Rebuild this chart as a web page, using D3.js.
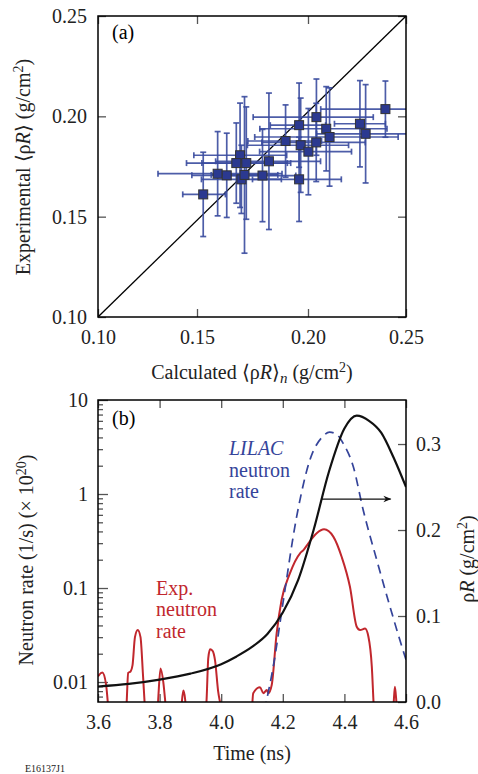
<!DOCTYPE html>
<html>
<head>
<meta charset="utf-8">
<script src="https://cdn.jsdelivr.net/npm/d3@7"></script>
<style>
    body { margin: 0; background: #fff; }
    svg text { font-family: "Liberation Serif", "Times New Roman", serif; }
</style>
</head>
<body>
<svg id="chart" width="478" height="774"></svg>
<script>
// panel (a): calculated vs experimental rhoR
var calcRhoR = [0.1528, 0.1593, 0.1634, 0.1694, 0.1677, 0.1722, 0.1700, 0.1714, 0.1795, 0.1824, 0.1899,
    0.1960, 0.2043, 0.1967, 0.2042, 0.2002, 0.2093, 0.2110, 0.1960, 0.2265, 0.2294, 0.2395];
var expRhoR = [0.1611, 0.1714, 0.1706, 0.1806, 0.1767, 0.1767, 0.1686, 0.1708, 0.1705, 0.1776, 0.1877,
    0.1956, 0.1996, 0.1856, 0.1870, 0.1824, 0.1938, 0.1897, 0.1686, 0.1963, 0.1913, 0.2036];
var calcErr = [0.010, 0.029, 0.016, 0.021, 0.023, 0.020, 0.018, 0.015, 0.015, 0.024, 0.017,
    0.013, 0.029, 0.024, 0.025, 0.022, 0.031, 0.035, 0.021, 0.013, 0.025, 0.033];
var expErr = [0.021, 0.021, 0.021, 0.026, 0.020, 0.028, 0.017, 0.039, 0.023, 0.034, 0.018,
    0.021, 0.019, 0.0235, 0.0195, 0.0215, 0.021, 0.0245, 0.021, 0.0215, 0.0245, 0.014];
var aTicks = [0.10, 0.15, 0.20, 0.25];

// panel (b): time histories
var rhoTime = [3.60, 3.70, 3.80, 3.90, 4.00, 4.05, 4.10, 4.15, 4.20, 4.25, 4.30, 4.35, 4.40, 4.44, 4.48, 4.52, 4.56, 4.60];
var rhoR = [0.018, 0.021, 0.026, 0.033, 0.044, 0.053, 0.064, 0.079, 0.104, 0.142, 0.200, 0.268, 0.318, 0.333, 0.327, 0.313, 0.284, 0.250];

var lilacTime = [4.140, 4.169, 4.202, 4.245, 4.288, 4.330, 4.352, 4.375, 4.396, 4.429, 4.461, 4.505, 4.548, 4.597, 4.62];
var lilacRate = [0.005, 0.0146, 0.0745, 0.574, 2.30, 4.10, 4.55, 4.30, 3.46, 1.95, 0.676, 0.199, 0.0633, 0.0186, 0.011];

var expTime = [3.600, 3.614, 3.626, 3.634, 3.640, 3.688, 3.693, 3.698, 3.706, 3.712, 3.720, 3.729, 3.738, 3.746, 3.753, 3.760,
    3.790, 3.796, 3.803, 3.812, 3.821, 3.828, 3.866, 3.872, 3.877, 3.883, 3.890, 3.945, 3.953, 3.958, 3.964, 3.972, 3.980,
    3.990, 4.000, 4.006, 4.095, 4.104, 4.126, 4.137, 4.148, 4.153, 4.164, 4.180, 4.196, 4.223, 4.256, 4.267, 4.283, 4.310,
    4.334, 4.364, 4.391, 4.418, 4.440, 4.451, 4.467, 4.478, 4.489, 4.496, 4.502, 4.555, 4.560, 4.564, 4.569, 4.575];
var expRate = [0.0115, 0.0126, 0.0095, 0.005, 0.003, 0.003, 0.006, 0.0125, 0.013, 0.015, 0.030, 0.0357, 0.030, 0.012, 0.005, 0.003,
    0.003, 0.007, 0.0139, 0.010, 0.005, 0.003, 0.003, 0.006, 0.0081, 0.0065, 0.003, 0.003, 0.007, 0.018, 0.0223, 0.0215, 0.017,
    0.008, 0.005, 0.003, 0.003, 0.0076, 0.0088, 0.0076, 0.0082, 0.0076, 0.0093, 0.033, 0.0745, 0.143, 0.234, 0.253, 0.299, 0.382,
    0.421, 0.352, 0.215, 0.103, 0.0387, 0.0357, 0.037, 0.0303, 0.0146, 0.005, 0.003, 0.003, 0.006, 0.0089, 0.006, 0.003];

var arrowFrom = [4.327, 0.236];
var arrowTo = [4.55, 0.236];

var svg = d3.select("#chart");
var blue = "#35449a";
var red = "#c1272d";

//坐标框
function frame(x0, y0, x1, y1) {
    svg.append("rect")
        .attr("x", x0)
        .attr("y", y0)
        .attr("width", x1 - x0)
        .attr("height", y1 - y0)
        .attr("fill", "none")
        .attr("stroke", "#000")
        .attr("stroke-width", 1.5);
}

function styleAxis(g) {
    g.select(".domain").remove();
    g.selectAll(".tick line").attr("stroke", "#555").attr("stroke-width", 1.3);
    g.selectAll(".tick text").attr("font-size", 20).attr("fill", "#222")
        .attr("font-family", "Liberation Serif, serif");
}

// ---------------- panel (a)
var xA = d3.scaleLinear().domain(aTicks).range([98, 197, 308, 406]);
var yA = d3.scaleLinear().domain([0.10, 0.25]).range([317, 16]);

svg.append("clipPath").attr("id", "clipA")
    .append("rect").attr("x", 98).attr("y", 16).attr("width", 308).attr("height", 301);
svg.append("clipPath").attr("id", "clipB")
    .append("rect").attr("x", 98).attr("y", 400).attr("width", 308).attr("height", 302);

svg.append("g").attr("transform", "translate(0,317)")
    .call(d3.axisBottom(xA).tickValues(aTicks).tickSize(-8).tickPadding(13).tickFormat(d3.format(".2f")))
    .call(styleAxis);
svg.append("g").attr("transform", "translate(0,16)")
    .call(d3.axisTop(xA).tickValues(aTicks).tickSize(-8).tickFormat(""))
    .call(styleAxis);
svg.append("g").attr("transform", "translate(98,0)")
    .call(d3.axisLeft(yA).tickValues(aTicks).tickSize(-8).tickPadding(11).tickFormat(d3.format(".2f")))
    .call(styleAxis);
svg.append("g").attr("transform", "translate(406,0)")
    .call(d3.axisRight(yA).tickValues(aTicks).tickSize(-8).tickFormat(""))
    .call(styleAxis);

var plotA = svg.append("g").attr("clip-path", "url(#clipA)");

// diagonal
plotA.append("line")
    .attr("x1", xA(0.10)).attr("y1", yA(0.10))
    .attr("x2", xA(0.25)).attr("y2", yA(0.25))
    .attr("stroke", "#000").attr("stroke-width", 1.3);

var pts = calcRhoR.map(function (d, i) {
    return {x: d, y: expRhoR[i], ex: calcErr[i], ey: expErr[i]};
});

var bars = plotA.selectAll("g.err").data(pts).enter().append("g").classed("err", true)
    .attr("stroke", "#3a4b9f").attr("stroke-width", 1.7).attr("stroke-opacity", 0.9);
bars.append("line")
    .attr("x1", function (d) { return xA(d.x - d.ex) })
    .attr("x2", function (d) { return xA(d.x + d.ex) })
    .attr("y1", function (d) { return yA(d.y) })
    .attr("y2", function (d) { return yA(d.y) });
bars.append("line")
    .attr("x1", function (d) { return xA(d.x) })
    .attr("x2", function (d) { return xA(d.x) })
    .attr("y1", function (d) { return yA(d.y - d.ey) })
    .attr("y2", function (d) { return yA(d.y + d.ey) });
// caps
[-1, 1].forEach(function (s) {
    bars.append("line")
        .attr("x1", function (d) { return xA(d.x + s * d.ex) })
        .attr("x2", function (d) { return xA(d.x + s * d.ex) })
        .attr("y1", function (d) { return yA(d.y) - 3 })
        .attr("y2", function (d) { return yA(d.y) + 3 });
    bars.append("line")
        .attr("x1", function (d) { return xA(d.x) - 3 })
        .attr("x2", function (d) { return xA(d.x) + 3 })
        .attr("y1", function (d) { return yA(d.y + s * d.ey) })
        .attr("y2", function (d) { return yA(d.y + s * d.ey) });
});

plotA.selectAll("rect.pt").data(pts).enter().append("rect")
    .classed("pt", true)
    .attr("x", function (d) { return xA(d.x) - 4.5 })
    .attr("y", function (d) { return yA(d.y) - 4.5 })
    .attr("width", 9)
    .attr("height", 9)
    .attr("fill", "#2b3990")
    .attr("stroke", "#333")
    .attr("stroke-width", 1);

frame(98, 16, 406, 317);

svg.append("text").attr("x", 112).attr("y", 39).attr("font-size", 20).text("(a)");

var tA = svg.append("text").attr("x", 252).attr("y", 379).attr("font-size", 20)
    .attr("text-anchor", "middle").attr("fill", "#222");
tA.append("tspan").text("Calculated \u27E8\u03C1");
tA.append("tspan").attr("font-style", "italic").text("R");
tA.append("tspan").text("\u27E9");
tA.append("tspan").attr("font-style", "italic").attr("font-size", 15).attr("dy", 4).text("n");
tA.append("tspan").attr("dy", -4).text(" (g/cm");
tA.append("tspan").attr("font-size", 14).attr("dy", -7).text("2");
tA.append("tspan").attr("dy", 7).text(")");

var yTitleA = svg.append("text").attr("transform", "translate(30,167) rotate(-90)")
    .attr("font-size", 20).attr("text-anchor", "middle").attr("fill", "#222");
yTitleA.append("tspan").text("Experimental \u27E8\u03C1");
yTitleA.append("tspan").attr("font-style", "italic").text("R");
yTitleA.append("tspan").text("\u27E9 (g/cm");
yTitleA.append("tspan").attr("font-size", 14).attr("dy", -7).text("2");
yTitleA.append("tspan").attr("dy", 7).text(")");

// ---------------- panel (b)
var xB = d3.scaleLinear().domain([3.6, 4.6]).range([98, 406]);
var yB = d3.scaleLog().domain([0.00613, 10]).range([702, 400]);
var yR = d3.scaleLinear().domain([0, 0.3512]).range([702, 400]);

var bTicks = [3.6, 3.8, 4.0, 4.2, 4.4, 4.6];
svg.append("g").attr("transform", "translate(0,702)")
    .call(d3.axisBottom(xB).tickValues(bTicks).tickSize(-8).tickPadding(13).tickFormat(d3.format(".1f")))
    .call(styleAxis);
svg.append("g").attr("transform", "translate(0,400)")
    .call(d3.axisTop(xB).tickValues(bTicks).tickSize(-8).tickFormat(""))
    .call(styleAxis);

var majorB = [0.01, 0.1, 1, 10];
var minorB = [];
[0.001, 0.01, 0.1, 1].forEach(function (dec) {
    for (var k = 2; k <= 9; k++) {
        var v = dec * k;
        if (v >= yB.domain()[0] && v <= 10) minorB.push(v);
    }
});
svg.append("g").attr("transform", "translate(98,0)")
    .call(d3.axisLeft(yB).tickValues(majorB).tickSize(-10).tickPadding(10)
        .tickFormat(function (d) { return d >= 1 ? d3.format("d")(d) : d3.format("")(d); }))
    .call(styleAxis);
svg.append("g").attr("transform", "translate(98,0)")
    .call(d3.axisLeft(yB).tickValues(minorB).tickSize(-5).tickFormat(""))
    .call(styleAxis);

svg.append("g").attr("transform", "translate(406,0)")
    .call(d3.axisRight(yR).tickValues([0, 0.1, 0.2, 0.3]).tickSize(-8).tickPadding(10).tickFormat(d3.format(".1f")))
    .call(styleAxis);

var plotB = svg.append("g").attr("clip-path", "url(#clipB)");

var rhoLine = d3.line()
    .x(function (d) { return xB(d[0]) })
    .y(function (d) { return yR(d[1]) })
    .curve(d3.curveMonotoneX);
var rateLine = d3.line()
    .x(function (d) { return xB(d[0]) })
    .y(function (d) { return yB(d[1]) })
    .curve(d3.curveMonotoneX);

plotB.append("path")
    .datum(expTime.map(function (t, i) { return [t, expRate[i]]; }))
    .attr("d", rateLine)
    .attr("fill", "none").attr("stroke", red).attr("stroke-width", 2);

plotB.append("path")
    .datum(lilacTime.map(function (t, i) { return [t, lilacRate[i]]; }))
    .attr("d", rateLine)
    .attr("fill", "none").attr("stroke", blue).attr("stroke-width", 1.7)
    .attr("stroke-dasharray", "9,6");

plotB.append("path")
    .datum(rhoTime.map(function (t, i) { return [t, rhoR[i]]; }))
    .attr("d", rhoLine)
    .attr("fill", "none").attr("stroke", "#111").attr("stroke-width", 2.2);

svg.append("defs").append("marker")
    .attr("id", "arrow").attr("viewBox", "0 0 10 10")
    .attr("refX", 9).attr("refY", 5)
    .attr("markerWidth", 10).attr("markerHeight", 8)
    .attr("markerUnits", "userSpaceOnUse")
    .attr("orient", "auto")
    .append("path").attr("d", "M0,1 L10,5 L0,9 L3,5 Z").attr("fill", "#111");

svg.append("line")
    .attr("x1", xB(arrowFrom[0])).attr("y1", yR(arrowFrom[1]))
    .attr("x2", xB(arrowTo[0])).attr("y2", yR(arrowTo[1]))
    .attr("stroke", "#111").attr("stroke-width", 1.3)
    .attr("marker-end", "url(#arrow)");

frame(98, 400, 406, 702);

svg.append("text").attr("x", 112).attr("y", 425).attr("font-size", 20).text("(b)");

var lil = svg.append("text").attr("x", 229).attr("font-size", 20).attr("fill", blue);
lil.append("tspan").attr("x", 229).attr("y", 455).attr("font-style", "italic").text("LILAC");
lil.append("tspan").attr("x", 229).attr("y", 477).text("neutron");
lil.append("tspan").attr("x", 229).attr("y", 498).text("rate");

var ex = svg.append("text").attr("font-size", 20).attr("fill", red);
ex.append("tspan").attr("x", 156).attr("y", 595).text("Exp.");
ex.append("tspan").attr("x", 156).attr("y", 616).text("neutron");
ex.append("tspan").attr("x", 156).attr("y", 638).text("rate");

svg.append("text").attr("x", 252).attr("y", 760).attr("font-size", 20)
    .attr("text-anchor", "middle").attr("fill", "#222").text("Time (ns)");

var yTitleB = svg.append("text").attr("transform", "translate(33,560) rotate(-90)")
    .attr("font-size", 20).attr("text-anchor", "middle").attr("fill", "#222");
yTitleB.append("tspan").text("Neutron rate (1/s) (\u00D7 10");
yTitleB.append("tspan").attr("font-size", 14).attr("dy", -7).text("20");
yTitleB.append("tspan").attr("dy", 7).text(")");

var rTitle = svg.append("text").attr("transform", "translate(474,559) rotate(-90)")
    .attr("font-size", 20).attr("text-anchor", "middle").attr("fill", "#222");
rTitle.append("tspan").text("\u03C1");
rTitle.append("tspan").attr("font-style", "italic").text("R");
rTitle.append("tspan").text(" (g/cm");
rTitle.append("tspan").attr("font-size", 14).attr("dy", -7).text("2");
rTitle.append("tspan").attr("dy", 7).text(")");

svg.append("text").attr("x", 25).attr("y", 772).attr("font-size", 10).attr("fill", "#222").text("E16137J1");
</script>
</body>
</html>
